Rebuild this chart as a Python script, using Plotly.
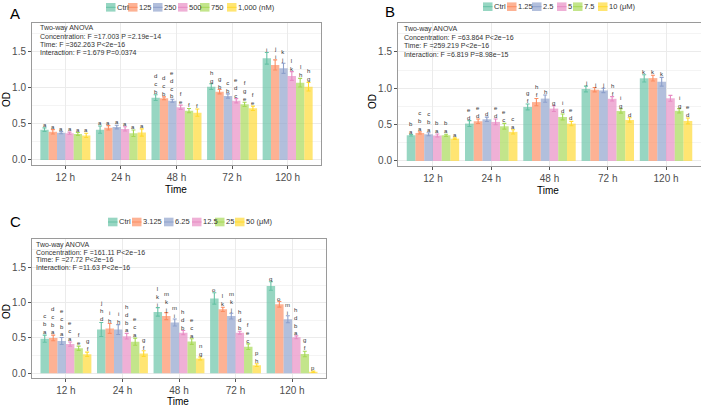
import plotly.graph_objects as go

# ---------------- data ----------------
times = ["12 h", "24 h", "48 h", "72 h", "120 h"]

A_series = ["Ctrl", "125", "250", "500", "750", "1,000 (nM)"]
A_ctrl = [0.42, 0.42, 0.863, 1.015, 1.408]
A_125 = [0.39, 0.445, 0.854, 0.946, 1.316]
A_250 = [0.377, 0.455, 0.82, 0.886, 1.27]
A_500 = [0.37, 0.43, 0.73, 0.82, 1.163]
A_750 = [0.36, 0.37, 0.683, 0.77, 1.07]
A_1000 = [0.34, 0.38, 0.655, 0.716, 1.015]
A_err = [[0.025, 0.05, 0.04, 0.04, 0.08], [0.03, 0.03, 0.02, 0.03, 0.07],
         [0.015, 0.025, 0.02, 0.03, 0.07], [0.015, 0.03, 0.03, 0.03, 0.06],
         [0.02, 0.045, 0.03, 0.03, 0.06], [0.03, 0.05, 0.05, 0.03, 0.06]]
A_letters = [["a", "a", "dcb", "hg", "i"], ["a", "a", "dcb", "gb", "ji"],
             ["a", "a", "edcb", "cb", "kj"], ["a", "a", "fe", "edc", "lk"],
             ["a", "a", "f", "fge", "lh"], ["a", "a", "f", "fe", "hg"]]
A_anova = ["Two-way ANOVA", "Concentration: F =17.003 P =2.19e\u221214",
           "Time: F =362.263 P<2e\u221216", "Interaction: F =1.679 P=0.0374"]

B_series = ["Ctrl", "1.25", "2.5", "5", "7.5", "10 (\u03bcM)"]
B_ctrl = [0.353, 0.514, 0.743, 0.99, 1.137]
B_125 = [0.385, 0.546, 0.81, 0.98, 1.14]
B_25 = [0.367, 0.573, 0.858, 0.97, 1.09]
B_5 = [0.35, 0.537, 0.72, 0.855, 0.862]
B_75 = [0.353, 0.477, 0.605, 0.688, 0.69]
B_10 = [0.307, 0.40, 0.514, 0.564, 0.55]
B_err = [[0.01, 0.04, 0.04, 0.04, 0.05], [0.015, 0.03, 0.05, 0.03, 0.04],
         [0.02, 0.03, 0.05, 0.03, 0.06], [0.02, 0.04, 0.04, 0.03, 0.04],
         [0.015, 0.04, 0.04, 0.03, 0.03], [0.01, 0.03, 0.03, 0.03, 0.04]]
B_letters = [["ba", "ed", "gf", "j", "k"], ["cba", "ed", "hf", "j", "k"],
             ["cba", "d", "h", "j", "k"], ["ba", "ed", "g", "hf", ""],
             ["ba", "ec", "id", "ig", "ig"], ["a", "ca", "ed", "d", "ed"]]
B_anova = ["Two-way ANOVA", "Concentration: F =63.864 P<2e\u221216",
           "Time: F =259.219 P<2e\u221216", "Interaction: F =6.819 P=8.98e\u221215"]

C_series = ["Ctrl", "3.125", "6.25", "12.5", "25", "50 (\u03bcM)"]
C_ctrl = [0.49, 0.62, 0.87, 1.06, 1.236]
C_3125 = [0.50, 0.635, 0.81, 0.906, 0.977]
C_625 = [0.457, 0.62, 0.72, 0.81, 0.765]
C_125 = [0.413, 0.525, 0.575, 0.575, 0.51]
C_25 = [0.355, 0.448, 0.45, 0.377, 0.273]
C_50 = [0.27, 0.28, 0.21, 0.115, 0.02]
C_err = [[0.05, 0.1, 0.06, 0.08, 0.06], [0.04, 0.07, 0.05, 0.03, 0.04],
         [0.05, 0.07, 0.05, 0.04, 0.05], [0.03, 0.04, 0.03, 0.02, 0.02],
         [0.03, 0.05, 0.04, 0.04, 0.04], [0.03, 0.04, 0.02, 0.02, 0.01]]
C_letters = [["cba", "jhd", "lki", "o", "q"], ["dcba", "ih", "mkj", "lk", "o"],
             ["ecba", "ih", "mi", "mkj", "mi"], ["eca", "hdba", "hdb", "hdb", "hdba"],
             ["fe", "eca", "eca", "fec", "gf"], ["gf", "gf", "ng", "ph", "p"]]
C_anova = ["Two-way ANOVA", "Concentration: F =161.11 P<2e\u221216",
           "Time: F =27.72 P<2e\u221216", "Interaction: F =11.63 P<2e\u221216"]

y_ticks = [0.0, 0.5, 1.0, 1.5]
y_ticktext = ["0.0", "0.5", "1.0", "1.5"]

# ---------------- style ----------------
W, H = 701, 408
FONT = "Liberation Sans, Arial, sans-serif"
LINE = ["#66C2A5", "#FC8D62", "#8DA0CB", "#E78AC3", "#A6D854", "#FFD92F"]
FILL = ["rgba(102,194,165,0.68)", "rgba(252,141,98,0.68)", "rgba(141,160,203,0.68)",
        "rgba(231,138,195,0.68)", "rgba(166,216,84,0.68)", "rgba(255,217,47,0.68)"]
YR = [-0.07, 1.9]
XR = [-0.6, 4.6]
BARW = 0.15


def fx(x):
    return x / W


def fy(y):
    return 1 - y / H


panels = [
    dict(key="", label="A", series=A_series,
         means=[A_ctrl, A_125, A_250, A_500, A_750, A_1000], err=A_err,
         letters=A_letters, anova=A_anova,
         xd=(32, 321), yd=(22.8, 165), lab=(8, 13), anova_xy=(39, 28, 8.3),
         legend_x=[106, 128, 153, 178, 200, 227], legend_y=7.3,
         od=(6, 100), time=(176, 189)),
    dict(key="2", label="B", series=B_series,
         means=[B_ctrl, B_125, B_25, B_5, B_75, B_10], err=B_err,
         letters=B_letters, anova=B_anova,
         xd=(398, 701), yd=(22.9, 166), lab=(383, 11), anova_xy=(403, 29.3, 8.3),
         legend_x=[483, 507, 532, 557, 573, 598], legend_y=6.7,
         od=(372, 102), time=(548, 190)),
    dict(key="3", label="C", series=C_series,
         means=[C_ctrl, C_3125, C_625, C_125, C_25, C_50], err=C_err,
         letters=C_letters, anova=C_anova,
         xd=(32, 326), yd=(239.2, 378.2), lab=(8, 222), anova_xy=(35, 245, 7.4),
         legend_x=[108, 132, 164, 192, 215, 235], legend_y=222,
         od=(6, 312), time=(178, 401)),
]

fig = go.Figure()
annotations = []
shapes = []
layout_axes = {}

for p in panels:
    k = p["key"]
    xa = "x" + k
    ya = "y" + k
    for j, name in enumerate(p["series"]):
        fig.add_trace(go.Bar(
            x=times, y=p["means"][j], name=name, xaxis=xa, yaxis=ya,
            marker=dict(color=FILL[j], line=dict(width=0)),
            error_y=dict(type="data", array=p["err"][j], color=LINE[j],
                         thickness=1.1, width=2),
            showlegend=False, hoverinfo="skip"))
        # significance letters, stacked one per line
        for i in range(len(times)):
            s = p["letters"][j][i]
            if not s:
                continue
            top = p["means"][j][i] + p["err"][j][i]
            annotations.append(dict(
                x=i + (j - 2.5) * BARW, y=top, xref=xa, yref=ya,
                text="<br>".join(list(s)), showarrow=False,
                yanchor="bottom", xanchor="center", borderpad=0, yshift=-1,
                font=dict(family=FONT, size=6, color="#333333")))
    x0, x1 = p["xd"]
    y0, y1 = p["yd"]
    layout_axes["xaxis" + k] = dict(
        domain=[fx(x0), fx(x1)], anchor=ya, type="category", range=XR,
        showgrid=True, gridcolor="#ebebeb", gridwidth=1,
        showline=True, mirror=True, linecolor="#9a9a9a", linewidth=1,
        ticks="outside", ticklen=3, tickcolor="#555555",
        tickfont=dict(family=FONT, size=10, color="#4d4d4d"), zeroline=False)
    layout_axes["yaxis" + k] = dict(
        domain=[fy(y1), fy(y0)], anchor=xa, range=YR,
        tickvals=y_ticks, ticktext=y_ticktext,
        showgrid=True, gridcolor="#ebebeb", gridwidth=1,
        minor=dict(tickvals=[0.25, 0.75, 1.25, 1.75], showgrid=True,
                   gridcolor="#f4f4f4", gridwidth=0.6),
        showline=True, mirror=True, linecolor="#9a9a9a", linewidth=1,
        ticks="outside", ticklen=3, tickcolor="#555555",
        tickfont=dict(family=FONT, size=10, color="#4d4d4d"), zeroline=False)

    # panel label
    annotations.append(dict(x=fx(p["lab"][0]), y=fy(p["lab"][1]), xref="paper", yref="paper",
                            text=p["label"], showarrow=False, xanchor="left", yanchor="middle",
                            font=dict(family=FONT, size=15, color="#000000")))
    # ANOVA text
    ax, ay, pitch = p["anova_xy"]
    for li, line in enumerate(p["anova"]):
        annotations.append(dict(x=fx(ax), y=fy(ay + li * pitch), xref="paper", yref="paper",
                                text=line, showarrow=False, xanchor="left", yanchor="middle",
                                borderpad=0,
                                font=dict(family=FONT, size=7, color="#333333")))
    # axis titles
    annotations.append(dict(x=fx(p["od"][0]), y=fy(p["od"][1]), xref="paper", yref="paper",
                            text="OD", showarrow=False, textangle=-90,
                            xanchor="center", yanchor="middle",
                            font=dict(family=FONT, size=10, color="#000000")))
    annotations.append(dict(x=fx(p["time"][0]), y=fy(p["time"][1]), xref="paper", yref="paper",
                            text="Time", showarrow=False, xanchor="center", yanchor="middle",
                            font=dict(family=FONT, size=10, color="#000000")))
    # legend (manual, compact ggplot-like keys)
    ly = p["legend_y"]
    for j, name in enumerate(p["series"]):
        bx = p["legend_x"][j]
        shapes.append(dict(type="rect", xref="paper", yref="paper",
                           x0=fx(bx), x1=fx(bx + 9.5), y0=fy(ly + 4.3), y1=fy(ly - 4.3),
                           fillcolor=FILL[j], line=dict(width=0)))
        shapes.append(dict(type="line", xref="paper", yref="paper",
                           x0=fx(bx), x1=fx(bx + 9.5), y0=fy(ly), y1=fy(ly),
                           line=dict(color=LINE[j], width=1)))
        annotations.append(dict(x=fx(bx + 10.3), y=fy(ly), xref="paper", yref="paper",
                                text=name, showarrow=False, xanchor="left", yanchor="middle",
                                borderpad=0,
                                font=dict(family=FONT, size=7.5, color="#333333")))

fig.update_layout(
    width=W, height=H, margin=dict(l=0, r=0, t=0, b=0),
    paper_bgcolor="white", plot_bgcolor="white",
    barmode="group", bargap=0.1, bargroupgap=0,
    showlegend=False, annotations=annotations, shapes=shapes,
    font=dict(family=FONT), hovermode=False,
    **layout_axes)

fig.write_html("out.html", config={"displayModeBar": False},
               post_script="document.body.style.margin='0';document.body.style.padding='0';")
